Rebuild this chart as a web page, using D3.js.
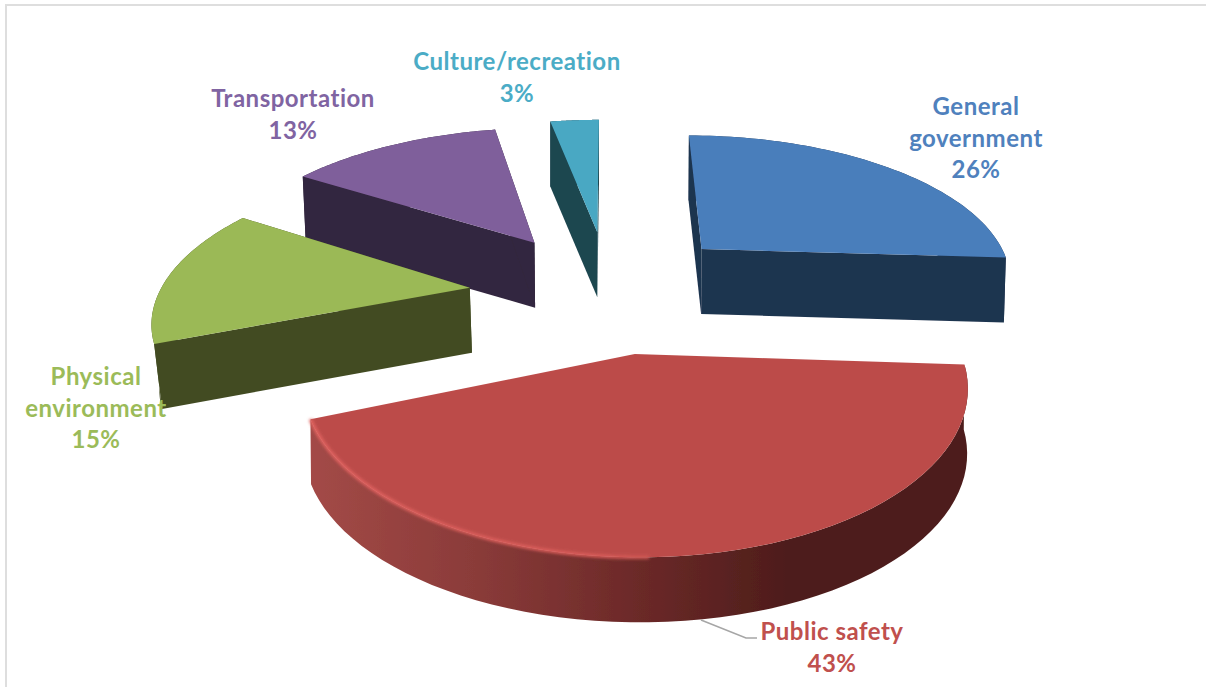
<head>
    <script src="https://d3js.org/d3.v7.min.js"></script>
    <style>
        html, body { margin: 0; background: #fff; overflow: hidden; }
        text { font-family: Lato, "Open Sans", sans-serif; font-weight: 700; font-size: 24px; letter-spacing: 0.5px; }
    </style>
</head>

<body>
    <div id="app"></div>
</body>

<script>
    // chart data
    const categories = ["General government", "Public safety", "Physical environment", "Transportation", "Culture/recreation"];
    const shares = [26, 43, 15, 13, 3];
    const labelLines = [["General", "government"], ["Public safety"], ["Physical", "environment"], ["Transportation"], ["Culture/recreation"]];

    // look of each slice
    const topColors = ["#4a7ebb", "#bc4c4a", "#9bb956", "#7f5f9b", "#49a8c3"];
    const sideColors = ["#1f344f", "#4e1d1b", "#434c23", "#33263f", "#1e4650"];
    const textColors = ["#4f81bd", "#c0504d", "#9bbb59", "#8064a2", "#4bacc6"];
    const explode = [0.38, 0.42, 0.38, 0.38, 0.38];
    const radius = [0.985, 0.94, 0.97, 1.02, 1.02];
    const nudge = [[8, 0], [3, 1], [-19, 7], [-10, 1], [-1, -1]];
    const bottomShrink = [0.995, 0.998, 0.982, 0.99, 1];
    const labelCenters = [[976, 115], [832, 640], [96, 385], [293, 107], [517, 70]];

    const W = 1206, H = 687;
    const cx = 609, cy = 286, scaleX = 320, scaleY = 149, persp = 0.187, depth = 65;

    const svg = d3.select("#app").append("svg")
        .attr("width", W)
        .attr("height", H);

    const defs = svg.append("defs");
    defs.append("filter").attr("id", "soft")
        .append("feGaussianBlur").attr("stdDeviation", 0.5);
    defs.append("filter").attr("id", "softer")
        .append("feGaussianBlur").attr("stdDeviation", 1.4);

    const wallGrad = defs.append("linearGradient").attr("id", "wall")
        .attr("gradientUnits", "userSpaceOnUse")
        .attr("x1", 308).attr("x2", 968).attr("y1", 0).attr("y2", 0);
    [[0, "#a34a47"], [0.25, "#8a3b39"], [0.5, "#6b2928"], [0.72, "#4e1d1b"], [1, "#4e1d1b"]].forEach(function (s) {
        wallGrad.append("stop").attr("offset", s[0]).attr("stop-color", s[1]);
    });
    const shineGrad = defs.append("linearGradient").attr("id", "shine")
        .attr("gradientUnits", "userSpaceOnUse")
        .attr("x1", 308).attr("x2", 720).attr("y1", 0).attr("y2", 0);
    shineGrad.append("stop").attr("offset", 0).attr("stop-color", "#e0625f");
    shineGrad.append("stop").attr("offset", 0.7).attr("stop-color", "#d95c59");
    shineGrad.append("stop").attr("offset", 1).attr("stop-color", "#bc4c4a");

    // frame of the chart area
    svg.append("path")
        .attr("d", d3.line()([[6, H], [6, 5], [W, 5]]))
        .attr("fill", "none")
        .attr("stroke", "#dedede")
        .attr("stroke-width", 2);

    const pie = d3.pie().sort(null)(shares);
    const line = d3.line();

    // plane point (x right, y towards the viewer) to screen, shrink < 1 is the bottom of the disc
    function project(x, y, shrink) {
        const s = 1 / (1 - persp * y);
        return [cx + scaleX * x * s * (shrink || 1), cy + scaleY * y * s + (shrink ? depth : 0)];
    }

    function slicePoints(d, i) {
        const mid = (d.startAngle + d.endAngle) / 2;
        const ox = Math.sin(mid) * explode[i];
        const oy = -Math.cos(mid) * explode[i];
        const rim = function (a) { return [ox + radius[i] * Math.sin(a), oy - radius[i] * Math.cos(a)]; };
        const n = 60;
        const angles = d3.range(n + 1).map(function (k) {
            return d.startAngle + (d.endAngle - d.startAngle) * k / n;
        });
        return { apex: [ox, oy], rim: angles.map(rim), angles: angles };
    }

    function drawSlice(d, i) {
        const g = svg.append("g")
            .attr("filter", "url(#soft)")
            .attr("transform", "translate(" + nudge[i] + ")");
        const p = slicePoints(d, i);
        const top = p.rim.map(function (q) { return project(q[0], q[1], 0); });
        const bottom = p.rim.map(function (q) { return project(q[0], q[1], bottomShrink[i]); });
        const apexTop = project(p.apex[0], p.apex[1], 0);
        const apexBottom = project(p.apex[0], p.apex[1], bottomShrink[i]);
        const last = top.length - 1;

        // outer wall
        g.append("path")
            .attr("d", line(top.concat(bottom.slice().reverse())) + "Z")
            .attr("fill", i === 1 ? "url(#wall)" : sideColors[i]);
        // the two cut faces
        [0, last].forEach(function (k) {
            g.append("path")
                .attr("d", line([top[k], apexTop, apexBottom, bottom[k]]) + "Z")
                .attr("fill", i === 1 ? "none" : sideColors[i]);
        });
        // top face
        g.append("path")
            .attr("d", line(top.concat([apexTop])) + "Z")
            .attr("fill", topColors[i]);

        // light bevel along the front rim of the large slice
        if (i === 1) {
            const front = top.filter(function (q, k) { return p.angles[k] > Math.PI * 0.98; });
            g.append("path")
                .attr("d", line(front))
                .attr("fill", "none")
                .attr("stroke", "url(#shine)")
                .attr("stroke-width", 3.5)
                .attr("filter", "url(#softer)");
        }
    }

    // back slices first
    [4, 0, 3, 2, 1].forEach(function (i) { drawSlice(pie[i], i); });

    // leader line of the large slice
    svg.append("path")
        .attr("d", line([[701, 620], [746, 638], [757, 638]]))
        .attr("fill", "none")
        .attr("stroke", "#a6a6a6")
        .attr("stroke-width", 1.5);

    // labels
    categories.forEach(function (c, i) {
        const lines = labelLines[i].concat([shares[i] + "%"]);
        const t = svg.append("text")
            .attr("text-anchor", "middle")
            .attr("fill", textColors[i]);
        lines.forEach(function (l, k) {
            t.append("tspan")
                .attr("x", labelCenters[i][0])
                .attr("y", labelCenters[i][1] + k * 31.5)
                .text(l);
        });
    });
</script>
